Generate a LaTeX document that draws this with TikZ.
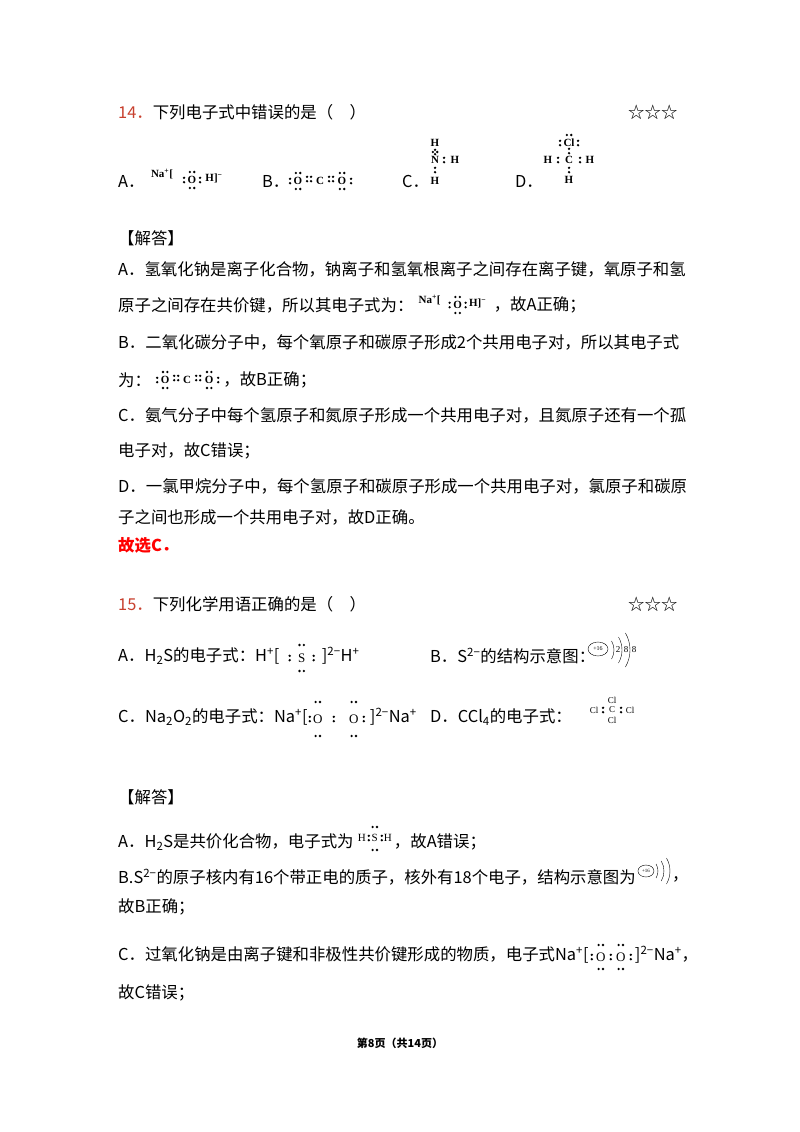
\documentclass[tikz,border=0pt]{standalone}
\usepackage{fontspec}
\setmainfont{Noto Sans CJK SC}
\newfontfamily\lat{Liberation Serif}
\definecolor{qred}{HTML}{C8402E}
\newcommand\hp[2]{\fill (#1-2.2,#2) circle(1.3) (#1+2.2,#2) circle(1.3);}
\newcommand\vp[2]{\fill (#1,#2-2.2) circle(1.3) (#1,#2+2.2) circle(1.3);}
\begin{document}
\begin{tikzpicture}[x=1pt,y=-1pt,
  tx/.style={anchor=west,inner sep=0,font=\fontsize{16.4}{19}\selectfont},
  sm/.style={inner sep=0,font=\lat\bfseries\fontsize{11}{12}\selectfont},
  smn/.style={inner sep=0,font=\lat\fontsize{13}{14}\selectfont},
  tn/.style={inner sep=0,font=\lat\fontsize{9}{9}\selectfont}]
\useasboundingbox[fill=white] (0,0) rectangle (800,1132);
% Q14
\node[tx] (q14) at (118,112) {\textcolor{qred}{14．}下列电子式中错误的是（\quad ）};
\node[tx] (s14) at (628,112) {☆☆☆};
\node[tx] (a14) at (118,181) {A．};
\node[sm] (na) at (162,174) {Na\textsuperscript{+}[};
\node[sm] (o1) at (192,180) {O};\vp{184}{180}\hp{192}{172}\hp{192}{188}\vp{200}{180}
\node[sm] (h1) at (214,178) {H]\textsuperscript{−}};
\node[tx] (b14) at (262,181) {B．};
\node[sm] (ob) at (298,181) {O};\vp{290}{181}\hp{298}{173}\hp{298}{189}
\vp{307}{179}\vp{311}{179}
\node[sm] (cb) at (320,181) {C};
\vp{329}{179}\vp{333}{179}
\node[sm] (ob2) at (342,181) {O};\vp{351}{181}\hp{342}{173}\hp{342}{189}
\node[tx] (c14) at (402,181) {C．};
\node[sm] (nh1) at (435,143) {H};
\node[sm] (nn) at (435,160) {N};\vp{435}{152}\hp{435}{152}
\node[sm] (nh2) at (455,160) {H};\vp{444}{160}
\node[sm] (nh3) at (435,181) {H};\vp{435}{170}
\node[tx] (d14) at (515,181) {D．};
\node[sm] (cl) at (569,143) {Cl};\vp{560}{143}\vp{578}{143}\hp{569}{135}
\node[sm] (cc) at (569,160) {C};\vp{569}{151}
\node[sm] (ch1) at (548,160) {H};\vp{558}{160}
\node[sm] (ch2) at (590,160) {H};\vp{580}{160}
\node[sm] (ch3) at (569,180) {H};\vp{569}{170}
% answer 14
\node[tx] (j1) at (118,238) {【解答】};
\node[tx] at (118,269) {A．氢氧化钠是离子化合物，钠离子和氢氧根离子之间存在离子键，氧原子和氢};
\node[tx] (la2) at (118,305) {原子之间存在共价键，所以其电子式为：};
\begin{scope}[shift={(la2.east)}]
\node[sm] at (16,-5) {Na\textsuperscript{+}[};
\node[sm] at (44,0) {O};\vp{36}{0}\hp{44}{-8}\hp{44}{8}\vp{52}{0}
\node[sm] at (64,-2) {H]\textsuperscript{−}};
\node[tx] at (80,0) {，故A正确；};
\end{scope}
\node[tx] at (118,342) {B．二氧化碳分子中，每个氧原子和碳原子形成2个共用电子对，所以其电子式};
\node[tx] (lb2) at (118,380) {为：};
\begin{scope}[shift={(lb2.east)}]
\node[sm] at (14,0) {O};\vp{6}{0}\hp{14}{-8}\hp{14}{8}
\vp{23}{-2}\vp{27}{-2}
\node[sm] at (36,0) {C};
\vp{45}{-2}\vp{49}{-2}
\node[sm] at (58,0) {O};\vp{67}{0}\hp{58}{-8}\hp{58}{8}
\node[tx] at (72,0) {，故B正确；};
\end{scope}
\node[tx] at (118,415) {C．氨气分子中每个氢原子和氮原子形成一个共用电子对，且氮原子还有一个孤};
\node[tx] at (118,451) {电子对，故C错误；};
\node[tx] at (118,486) {D．一氯甲烷分子中，每个氢原子和碳原子形成一个共用电子对，氯原子和碳原};
\node[tx] at (118,517) {子之间也形成一个共用电子对，故D正确。};
\node[tx,text=red,font=\bfseries\fontsize{16.4}{19}\selectfont] at (118,545) {故选C．};
% Q15
\node[tx] (q15) at (118,604) {\textcolor{qred}{15．}下列化学用语正确的是（\quad ）};
\node[tx] at (628,604) {☆☆☆};
\node[tx] (a15) at (118,656) {A．H\textsubscript{2}S的电子式：H\textsuperscript{+}[};
\begin{scope}[shift={(a15.east)}]
\node[smn] at (22,2) {S};\vp{10}{2}\vp{34}{2}\hp{22}{-11}\hp{22}{15}
\node[tx] at (42,0) {]\textsuperscript{2−}H\textsuperscript{+}};
\end{scope}
\node[tx] at (430,656) {B．S\textsuperscript{2−}的结构示意图：};
\draw (598,649) ellipse (10 and 7);\node[inner sep=0,font=\lat\fontsize{6}{6}\selectfont] at (598,649) {+16};
\foreach \r in {18,26,34} \draw (596,650) ++(-30:\r) arc(-30:30:\r);
\node[tn] at (618,650) {2};
\node[tn] at (626,650) {8};
\node[tn] at (634,650) {8};
\node[tx] (c15) at (118,717) {C．Na\textsubscript{2}O\textsubscript{2}的电子式：Na\textsuperscript{+}[};
\begin{scope}[shift={(c15.east)}]
\node[smn] at (10,2) {O};\vp{2}{2}\hp{10}{-15}\hp{10}{19}
\vp{26}{2}
\node[smn] at (46,2) {O};\vp{56}{2}\hp{46}{-15}\hp{46}{19}
\node[tx] at (62,0) {]\textsuperscript{2−}Na\textsuperscript{+}};
\end{scope}
\node[tx] (d15) at (430,717) {D．CCl\textsubscript{4}的电子式：};
\begin{scope}[shift={(d15.east)}]
\node[tn] at (40,-17) {Cl};
\node[tn] at (40,-7) {C};
\node[tn] at (22,-7) {Cl};
\node[tn] at (58,-7) {Cl};
\node[tn] at (40,3) {Cl};
\vp{31}{-7}\vp{49}{-7}
\end{scope}
% answer 15
\node[tx] at (118,797) {【解答】};
\node[tx] (a15b) at (118,842) {A．H\textsubscript{2}S是共价化合物，电子式为};
\begin{scope}[shift={(a15b.east)}]
\node[inner sep=0,font=\lat\fontsize{11}{11}\selectfont] at (8,-4) {H};
\node[inner sep=0,font=\lat\fontsize{11}{11}\selectfont] at (21,-4) {S};
\node[inner sep=0,font=\lat\fontsize{11}{11}\selectfont] at (34,-4) {H};
\vp{15}{-4}\vp{28}{-4}\hp{21}{-15}\hp{21}{8}
\node[tx] at (40,0) {，故A错误；};
\end{scope}
\node[tx] (b15b) at (118,877) {B.S\textsuperscript{2−}的原子核内有16个带正电的质子，核外有18个电子，结构示意图为};
\begin{scope}[shift={(b15b.east)}]
\draw (10,-6) ellipse (8 and 6);\node[inner sep=0,font=\lat\fontsize{5}{5}\selectfont] at (10,-6) {+16};
\foreach \r in {14,20,26} \draw (8,-6) ++(-30:\r) arc(-30:30:\r);
\node[tx] at (36,2) {，};
\end{scope}
\node[tx] at (118,907) {故B正确；};
\node[tx] (c15b) at (118,955) {C．过氧化钠是由离子键和非极性共价键形成的物质，电子式Na\textsuperscript{+}[};
\begin{scope}[shift={(c15b.east)}]
\node[smn] at (12,2) {O};\vp{3}{2}\hp{12}{-10}\hp{12}{14}
\vp{22}{2}
\node[smn] at (32,2) {O};\vp{42}{2}\hp{32}{-10}\hp{32}{14}
\node[tx] at (46,0) {]\textsuperscript{2−}Na\textsuperscript{+}，};
\end{scope}
\node[tx] at (118,993) {故C错误；};
\node[font=\bfseries\fontsize{11}{13}\selectfont] at (400,1043) {第8页（共14页）};
\end{tikzpicture}
\end{document}
